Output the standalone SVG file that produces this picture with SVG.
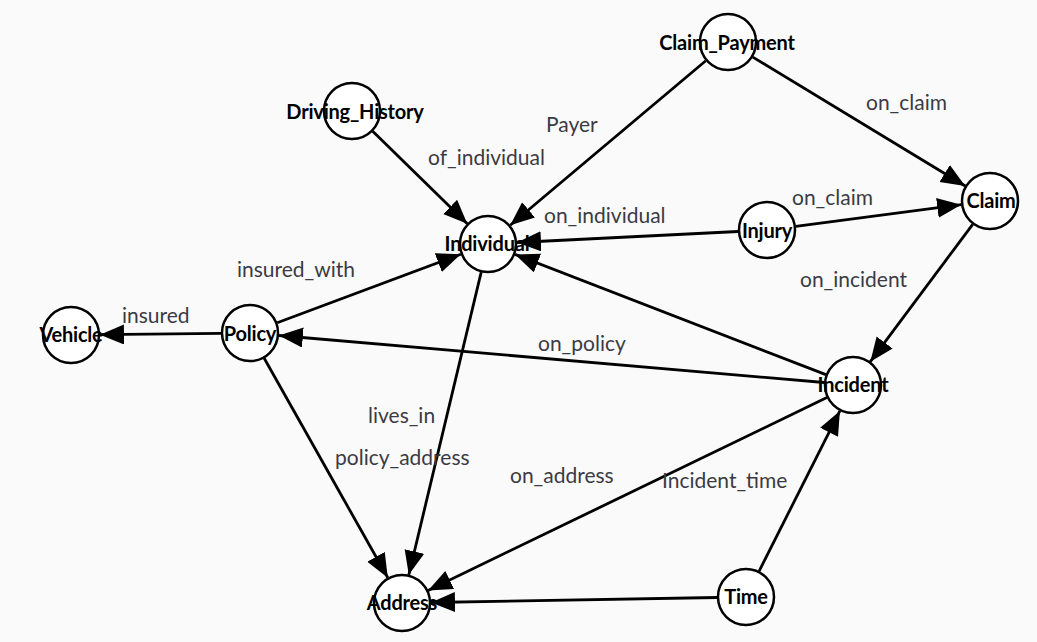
<svg xmlns="http://www.w3.org/2000/svg" width="1037" height="642" viewBox="0 0 1037 642">
  <style>
    .node circle { fill: #ffffff; stroke: #000000; stroke-width: 2.5; }
    .node text { font-family: Lato, "Open Sans", sans-serif; font-weight: bold; font-size: 20px; fill: #000000; text-anchor: middle; letter-spacing: -0.2px; }
    .edges line { stroke: #000000; stroke-width: 2.8; marker-end: url(#arrow); }
    .label { font-family: Lato, "Open Sans", sans-serif; font-size: 21px; fill: #3a3a44; }
  </style>
  <defs>
    <marker id="arrow" markerUnits="userSpaceOnUse" markerWidth="26" markerHeight="22" refX="24" refY="10" orient="auto">
      <path d="M0,0 L24,10 L0,20 Z" fill="#000000"/>
    </marker>
  </defs>
  <rect x="0" y="0" width="1037" height="642" fill="#fafafa"/>

  <!-- nodes -->
  <g id="node-claim-payment" class="node"><circle cx="728" cy="42" r="28"/><text x="727" y="50">Claim_Payment</text></g>
  <g id="node-driving-history" class="node"><circle cx="352" cy="111" r="28"/><text x="355" y="119">Driving_History</text></g>
  <g id="node-individual" class="node"><circle cx="488" cy="244" r="28"/><text x="487" y="251">Individual</text></g>
  <g id="node-injury" class="node"><circle cx="767" cy="230" r="28"/><text x="767" y="238">Injury</text></g>
  <g id="node-claim" class="node"><circle cx="990" cy="201" r="28"/><text x="991" y="208">Claim</text></g>
  <g id="node-vehicle" class="node"><circle cx="71" cy="335" r="28"/><text x="71" y="342">Vehicle</text></g>
  <g id="node-policy" class="node"><circle cx="250" cy="333" r="28"/><text x="250" y="341">Policy</text></g>
  <g id="node-incident" class="node"><circle cx="853" cy="385" r="28"/><text x="853" y="392">Incident</text></g>
  <g id="node-address" class="node"><circle cx="402" cy="603" r="28"/><text x="402" y="610">Address</text></g>
  <g id="node-time" class="node"><circle cx="746" cy="597" r="28"/><text x="746" y="604">Time</text></g>

  <!-- connectors -->
  <g id="edges" class="edges">
    <line x1="372.7" y1="131.3" x2="467.3" y2="223.7"/>
    <line x1="705.8" y1="60.7" x2="510.2" y2="225.3"/>
    <line x1="752.8" y1="57.1" x2="965.2" y2="186.0"/>
    <line x1="738.0" y1="231.5" x2="517.0" y2="242.5"/>
    <line x1="795.8" y1="226.3" x2="961.2" y2="204.7"/>
    <line x1="972.7" y1="224.3" x2="870.3" y2="361.7"/>
    <line x1="277.2" y1="322.8" x2="460.8" y2="254.2"/>
    <line x1="221.0" y1="333.3" x2="100.0" y2="334.7"/>
    <line x1="824.1" y1="382.5" x2="278.9" y2="335.5"/>
    <line x1="825.9" y1="374.6" x2="515.1" y2="254.4"/>
    <line x1="481.2" y1="272.2" x2="408.8" y2="574.8"/>
    <line x1="264.2" y1="358.3" x2="387.8" y2="577.7"/>
    <line x1="826.9" y1="397.6" x2="428.1" y2="590.4"/>
    <line x1="759.1" y1="571.1" x2="839.9" y2="410.9"/>
    <line x1="717.0" y1="597.5" x2="431.0" y2="602.5"/>
  </g>

  <!-- connector labels -->
  <g id="edge-labels">
    <text class="label" x="428" y="165">of_individual</text>
    <text class="label" x="546" y="132">Payer</text>
    <text class="label" x="866" y="110">on_claim</text>
    <text class="label" x="544" y="223">on_individual</text>
    <text class="label" x="792" y="205">on_claim</text>
    <text class="label" x="800" y="287">on_incident</text>
    <text class="label" x="237" y="277">insured_with</text>
    <text class="label" x="122" y="323">insured</text>
    <text class="label" x="538" y="351">on_policy</text>
    <text class="label" x="368" y="423">lives_in</text>
    <text class="label" x="335" y="465">policy_address</text>
    <text class="label" x="510" y="483">on_address</text>
    <text class="label" x="662" y="488">Incident_time</text>
  </g>
</svg>
